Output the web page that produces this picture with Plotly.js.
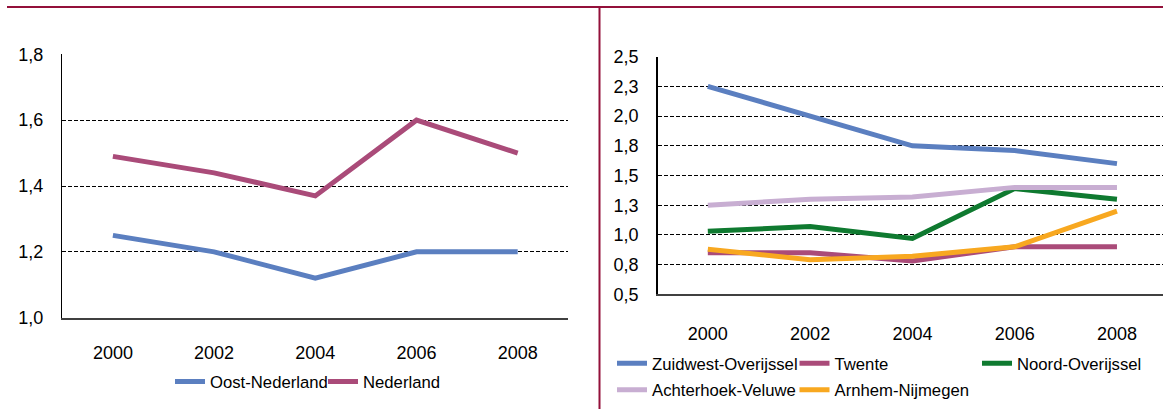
<!DOCTYPE html>
<html>
<head>
<meta charset="utf-8">
<script src="https://cdn.plot.ly/plotly-3.0.1.min.js"></script>
<style>html,body{margin:0;padding:0;background:#fff;overflow:hidden;}#chart{width:1163px;height:409px;}</style>
</head>
<body>
<div id="chart"></div>
<script>
// ---- data ----
const years = ['2000', '2002', '2004', '2006', '2008'];

const oostNederland = [1.25, 1.20, 1.12, 1.20, 1.20];
const nederland = [1.49, 1.44, 1.37, 1.60, 1.50];

const zuidwestOverijssel = [2.25, 2.00, 1.75, 1.71, 1.60];
const twente = [0.85, 0.85, 0.78, 0.90, 0.90];
const noordOverijssel = [1.03, 1.07, 0.97, 1.39, 1.30];
const achterhoekVeluwe = [1.25, 1.30, 1.32, 1.40, 1.40];
const arnhemNijmegen = [0.88, 0.79, 0.82, 0.90, 1.20];

const leftTickVals = [1.0, 1.2, 1.4, 1.6, 1.8];
const leftTickText = ['1,0', '1,2', '1,4', '1,6', '1,8'];
const rightTickVals = [0.5, 0.75, 1.0, 1.25, 1.5, 1.75, 2.0, 2.25, 2.5];
const rightTickText = ['0,5', '0,8', '1,0', '1,3', '1,5', '1,8', '2,0', '2,3', '2,5'];

// ---- styling ----
const W = 1163, H = 409;
const px = v => v / W;
const py = v => (H - v) / H;
const FONT = 'Liberation Sans, Arial, sans-serif';
const BLUE = '#5B7FC0', PLUM = '#AA4B79', GREEN = '#0F7A30', LILAC = '#C8AED2', ORANGE = '#F8A820';
const MAROON = '#93103A';
const LW = 5;

function tr(name, y, color, xa, ya, legend) {
  return {
    type: 'scatter', mode: 'lines', name: name, x: years, y: y,
    xaxis: xa, yaxis: ya, legend: legend,
    line: {color: color, width: LW}, hoverinfo: 'skip'
  };
}

const data = [
  tr('Oost-Nederland', oostNederland, BLUE, 'x', 'y', 'legend'),
  tr('Nederland', nederland, PLUM, 'x', 'y', 'legend'),
  tr('Zuidwest-Overijssel', zuidwestOverijssel, BLUE, 'x2', 'y2', 'legend2'),
  tr('Twente', twente, PLUM, 'x2', 'y2', 'legend2'),
  tr('Noord-Overijssel', noordOverijssel, GREEN, 'x2', 'y2', 'legend2'),
  tr('Achterhoek-Veluwe', achterhoekVeluwe, LILAC, 'x2', 'y2', 'legend3'),
  tr('Arnhem-Nijmegen', arnhemNijmegen, ORANGE, 'x2', 'y2', 'legend3')
];

const xBase = {
  type: 'category', showgrid: false, zeroline: false,
  showline: true, linecolor: '#404040', linewidth: 2,
  ticks: '', tickfont: {family: FONT, size: 18, color: '#000'}, fixedrange: true
};
const yBase = {
  showgrid: true, gridcolor: '#000', gridwidth: 1, griddash: '4px,2px',
  zeroline: false, showline: true, linecolor: '#000', linewidth: 1.5,
  ticks: '', tickfont: {family: FONT, size: 18, color: '#000'}, fixedrange: true,
  tickmode: 'array'
};
const legBase = {
  orientation: 'h', font: {family: FONT, size: 16.7, color: '#000'},
  bgcolor: 'rgba(0,0,0,0)', borderwidth: 0, itemwidth: 30,
  xanchor: 'left', yanchor: 'middle', entrywidthmode: 'pixels', traceorder: 'normal'
};

const layout = {
  width: W, height: H,
  margin: {l: 0, r: 0, t: 0, b: 0, pad: 0},
  paper_bgcolor: '#fff', plot_bgcolor: 'rgba(0,0,0,0)',
  font: {family: FONT, color: '#000'},
  showlegend: true,
  xaxis: Object.assign({}, xBase, {domain: [px(62.3), px(568.3)], range: [-0.5, 4.5], anchor: 'y', ticklabelstandoff: 18}),
  yaxis: Object.assign({}, yBase, {domain: [py(317.7), py(54.3)], range: [1.0, 1.8], anchor: 'x',
    tickvals: leftTickVals, ticktext: leftTickText, ticklabelstandoff: 14}),
  xaxis2: Object.assign({}, xBase, {domain: [px(657.7), 1], range: [-0.49, 4.45], anchor: 'y2', ticklabelstandoff: 22}),
  yaxis2: Object.assign({}, yBase, {domain: [py(294.3), py(56.7)], range: [0.5, 2.5], anchor: 'x2',
    tickvals: rightTickVals, ticktext: rightTickText, ticklabelstandoff: 14}),
  legend: Object.assign({}, legBase, {x: px(170), y: py(381.7), entrywidth: 108}),
  legend2: Object.assign({}, legBase, {x: px(612), y: py(363.3), entrywidth: 137.5}),
  legend3: Object.assign({}, legBase, {x: px(612), y: py(390), entrywidth: 137.5}),
  shapes: [
    {type: 'line', xref: 'paper', yref: 'paper', x0: px(7), x1: 1, y0: py(7), y1: py(7),
     line: {color: MAROON, width: 2}},
    {type: 'line', xref: 'paper', yref: 'paper', x0: px(599.5), x1: px(599.5), y0: py(7), y1: 0,
     line: {color: MAROON, width: 2}}
  ]
};

Plotly.newPlot('chart', data, layout, {staticPlot: true, displayModeBar: false});
</script>
</body>
</html>
